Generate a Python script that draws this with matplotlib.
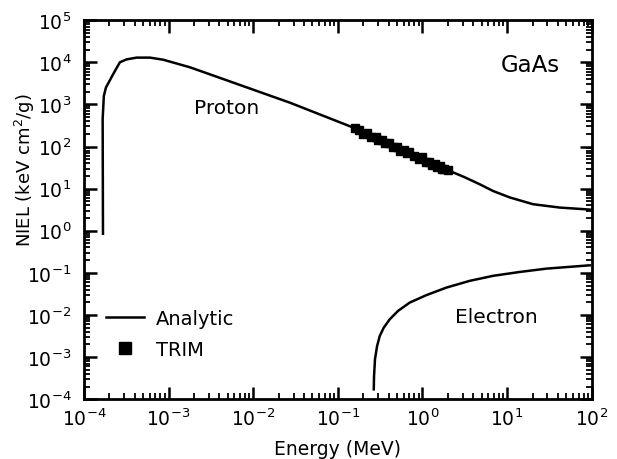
import matplotlib
matplotlib.use("Agg")
import matplotlib.pyplot as plt
from matplotlib.ticker import NullLocator, FixedLocator, LogFormatterSciNotation

plt.rcParams['font.family'] = ['DejaVu Sans']
plt.rcParams['mathtext.default'] = 'regular'

# Analytic proton NIEL curve (MeV, keV cm^2/g)
proton_E = [1.68e-4, 1.665e-4, 1.72e-4, 1.82e-4, 2.22e-4, 2.66e-4, 3.19e-4, 4.19e-4,
            6.03e-4, 8.65e-4, 1.79e-3, 4.42e-3, 1.10e-2, 2.71e-2, 0.152,
            2.10, 3.16, 4.75, 6.82, 10.7, 20.2, 41.9, 82.6, 100.0]
proton_N = [0.85, 447, 1.58e3, 2.51e3, 5.25e3, 1.0e4, 1.17e4, 1.29e4,
            1.29e4, 1.15e4, 7.6e3, 4.0e3, 2.09e3, 1.10e3, 282,
            26.3, 18.6, 12.7, 8.8, 6.2, 4.27, 3.55, 3.24, 3.15]

# Analytic electron NIEL curve
electron_E = [0.266, 0.268, 0.275, 0.291, 0.313, 0.349, 0.411, 0.515, 0.708,
              1.11, 1.92, 3.62, 6.84, 14.1, 29.2, 94.6]
electron_N = [1.72e-4, 3.5e-4, 8.9e-4, 1.82e-3, 3.16e-3, 5.0e-3, 7.9e-3,
              1.25e-2, 1.97e-2, 2.95e-2, 4.47e-2, 6.46e-2, 8.5e-2, 0.105, 0.126, 0.151]

# TRIM results
trim_E = [0.16, 0.18, 0.2, 0.22, 0.25, 0.28, 0.3, 0.33, 0.36, 0.4, 0.45, 0.5, 0.55,
          0.6, 0.65, 0.7, 0.8, 0.9, 1.0, 1.1, 1.2, 1.3, 1.4, 1.5, 1.6, 1.7, 1.8, 2.0]
trim_N = [280, 245, 200, 210, 165, 170, 140, 145, 118, 120, 96, 98, 80,
          84, 70, 74, 58, 50, 56, 42, 44, 36, 38, 32, 34, 29, 30, 27]

xmajor = [10.0**k for k in range(-4, 3)]
ymajor = [10.0**k for k in range(-4, 6)]
xminor = [m * 10.0**k for k in range(-4, 2) for m in range(2, 10)]
yminor = [m * 10.0**k for k in range(-4, 5) for m in range(2, 10)]

fig = plt.figure(figsize=(6.17, 4.60), dpi=100)
rect = [0.136, 0.130, 0.823, 0.824]

# overlay axes carrying the minor ticks (as its own major ticks, no labels)
axm = fig.add_axes(rect)
axm.set_xscale('log')
axm.set_yscale('log')
axm.set_xlim(1e-4, 1e2)
axm.set_ylim(1e-4, 1e5)
axm.xaxis.set_major_locator(FixedLocator(xminor))
axm.yaxis.set_major_locator(FixedLocator(yminor))
axm.xaxis.set_minor_locator(NullLocator())
axm.yaxis.set_minor_locator(NullLocator())
axm.tick_params(which='both', direction='in', top=True, right=True, bottom=True,
                left=True, labelbottom=False, labelleft=False, length=4.5, width=1.3)
for s in axm.spines.values():
    s.set_visible(False)
axm.patch.set_visible(False)

ax = fig.add_axes(rect)
ax.patch.set_visible(False)

ax.plot(proton_E, proton_N, color='black', lw=1.8, label='Analytic',
        solid_joinstyle='round')
ax.plot(electron_E, electron_N, color='black', lw=1.8, solid_joinstyle='round')
ax.plot(trim_E, trim_N, linestyle='none', marker='s', color='black',
        markersize=5.5, label='TRIM')

ax.set_xscale('log')
ax.set_yscale('log')
ax.set_xlim(1e-4, 1e2)
ax.set_ylim(1e-4, 1e5)

ax.xaxis.set_major_locator(FixedLocator(xmajor))
ax.yaxis.set_major_locator(FixedLocator(ymajor))
ax.xaxis.set_major_formatter(LogFormatterSciNotation())
ax.yaxis.set_major_formatter(LogFormatterSciNotation())
ax.xaxis.set_minor_locator(NullLocator())
ax.yaxis.set_minor_locator(NullLocator())

ax.tick_params(which='major', direction='in', top=True, right=True,
               labelsize=13.5, length=9, width=1.8)
ax.tick_params(axis='x', which='major', pad=6)
ax.tick_params(axis='y', which='major', pad=9)
for s in ax.spines.values():
    s.set_linewidth(2)

ax.set_xlabel('Energy (MeV)', fontsize=13.5, labelpad=7)
ax.set_ylabel('NIEL (keV cm$^2$/g)', fontsize=13)
ax.yaxis.set_label_coords(-0.093, 0.607)

ax.text(4.9e-3, 850, 'Proton', fontsize=14.5, ha='center', va='center')
ax.text(7.5, 9e-3, 'Electron', fontsize=14.5, ha='center', va='center')
ax.text(0.937, 0.884, 'GaAs', fontsize=16.5, ha='right', va='center', transform=ax.transAxes)

leg = ax.legend(loc='lower left', bbox_to_anchor=(0.01, 0.06), frameon=False,
                fontsize=14, handlelength=1.95, labelspacing=0.6, handletextpad=0.6,
                markerscale=1.5)

fig.savefig('out.png', dpi=100)
